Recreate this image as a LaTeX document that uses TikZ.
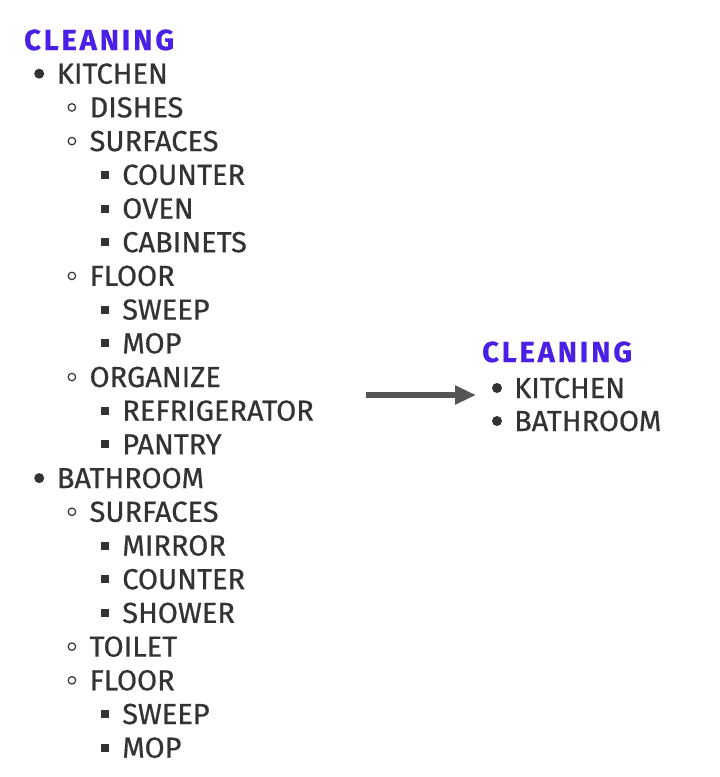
\documentclass[tikz,border=0pt]{standalone}
\usepackage{fontspec}
\setmainfont{Fira Sans}
\newfontfamily\itemfont[FakeBold=0.6]{Fira Sans}
\newfontfamily\titlefont[LetterSpace=10, FakeBold=0.5]{Fira Sans Bold}
\usetikzlibrary{positioning, arrows.meta}
\definecolor{titleblue}{HTML}{4A1FE6}
\definecolor{inkgray}{HTML}{333333}
\definecolor{arrowgray}{HTML}{555555}

\begin{document}
\begin{tikzpicture}[x=1pt, y=-1pt, >=Stealth]
        \useasboundingbox (0,0) rectangle (720,777);
        \tikzset{
            item/.style={anchor=base west, inner sep=0pt, text=inkgray, font=\itemfont\fontsize{29}{29}\selectfont},
            title/.style={item, text=titleblue, font=\titlefont\fontsize{29}{29}\selectfont},
            dot1/.style={circle, fill=inkgray, inner sep=0pt, minimum size=10pt},
            dot2/.style={circle, draw=inkgray, line width=1.2pt, inner sep=0pt, minimum size=7.5pt},
            dot3/.style={rectangle, fill=inkgray, inner sep=0pt, minimum size=8pt},
        }

        % Liste complete (gauche)
        \node [title] (item1) at (24,50) {CLEANING};
        \foreach \lvl/\txt [count=\i from 2] in {1/KITCHEN, 2/DISHES, 2/SURFACES, 3/COUNTER, 3/OVEN, 3/CABINETS,
                2/FLOOR, 3/SWEEP, 3/MOP, 2/ORGANIZE, 3/REFRIGERATOR, 3/PANTRY,
                1/BATHROOM, 2/SURFACES, 3/MIRROR, 3/COUNTER, 3/SHOWER, 2/TOILET, 2/FLOOR, 3/SWEEP, 3/MOP} {
            \pgfmathsetmacro{\rowy}{40+33.7*(\i-1)}
            \pgfmathsetmacro{\colx}{24+32.7*\lvl}
            \node [dot\lvl] (dot\i) at (\colx-17.5,\rowy) {};
            \node [item] (item\i) at (\colx,\rowy+10) {\txt};
        }

        % Liste repliee (droite)
        \node [title] (short1) at (482,362) {CLEANING};
        \node [dot1] (sdot2) at (497,388) {};
        \node [item] (short2) at (514,398) {KITCHEN};
        \node [dot1] (sdot3) at (497,421) {};
        \node [item] (short3) at (514,431) {BATHROOM};

        % Fleche
        \coordinate (from) at (366,395);
        \coordinate (to) at (476,395);
        \draw [arrowgray, line width=6pt, -{Triangle[length=21pt, width=18pt]}] (from) -- (to);

\end{tikzpicture}
\end{document}
